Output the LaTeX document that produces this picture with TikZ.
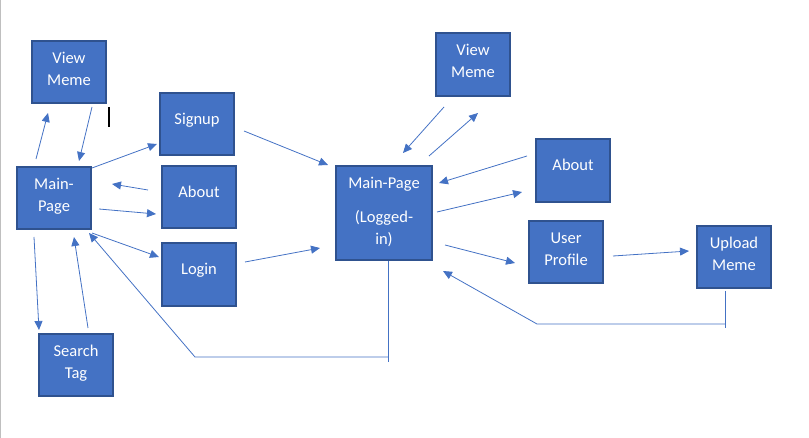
\documentclass[tikz,border=0pt]{standalone}
\usepackage{fontspec}
\setmainfont{Carlito}
\usetikzlibrary{arrows.meta}
\definecolor{boxfill}{HTML}{4472C4}
\definecolor{boxline}{HTML}{2F528F}
\definecolor{conn}{HTML}{4472C4}
\tikzset{
  box/.style={draw=boxline, fill=boxfill, line width=2pt, minimum width=74pt, minimum height=62pt, inner sep=0pt},
  lbl/.style={text=white, align=center, inner sep=0pt, font=\fontsize{16.5}{21.8}\selectfont},
  arr/.style={draw=conn, line width=0.8pt, -{Triangle[length=9pt,width=8pt]}},
  ln/.style={draw=conn, line width=0.8pt},
}
\begin{document}
\begin{tikzpicture}[x=1pt,y=-1pt]
\useasboundingbox (0,0) rectangle (809,438);
\draw[gray!50, line width=1pt] (0.5,0) -- (0.5,438);
% boxes
\node[box, label={[lbl,yshift=2pt]center:{\strut View\\\strut Meme}}] (vm1) at (69,72) {};
\node[box, label={[lbl,yshift=1.5pt]center:{\strut Main-\\\strut Page}}] (mp1) at (54,198) {};
\node[box, label={[lbl,yshift=4pt]center:{\strut Signup}}] (sg) at (197,124) {};
\node[box, label={[lbl,yshift=4pt]center:{\strut About}}] (ab1) at (199,197) {};
\node[box, minimum height=63pt, label={[lbl,yshift=4pt]center:{\strut Login}}] (lg) at (199,274.5) {};
\node[box, label={[lbl,yshift=2pt]center:{\strut Search\\\strut Tag}}] (st) at (76,365) {};
\node[box, minimum width=96pt, minimum height=94pt, label={[lbl,yshift=1.2pt]center:{\strut Main-Page\\[12.6pt]\strut (Logged-\\\strut in)}}] (mp2) at (384,213) {};
\node[box, minimum height=63pt, label={[lbl,yshift=2pt]center:{\strut View\\\strut Meme}}] (vm2) at (473,64.5) {};
\node[box, minimum height=63pt, label={[lbl,yshift=4pt]center:{\strut About}}] (ab2) at (573,170.5) {};
\node[box, label={[lbl,yshift=2pt]center:{\strut User\\\strut Profile}}] (up) at (566,252) {};
\node[box, label={[lbl,yshift=2pt]center:{\strut Upload\\\strut Meme}}] (um) at (734,257) {};
% text cursor
\draw[black, line width=1.2pt] (109,107) -- (109,127);
% connectors
\draw[arr] ([shift={(-18,-39)}]mp1.center) -- ([shift={(-21,41)}]vm1.center);
\draw[arr] ([shift={(23,35)}]vm1.center) -- ([shift={(25,-37)}]mp1.center);
\draw[arr] ([shift={(38,-30)}]mp1.center) -- ([shift={(-40,20)}]sg.center);
\draw[arr] ([shift={(-51,-7)}]ab1.center) -- ([shift={(58,-14)}]mp1.center);
\draw[arr] ([shift={(45,11)}]mp1.center) -- ([shift={(-43,17)}]ab1.center);
\draw[arr] ([shift={(38,35)}]mp1.center) -- ([shift={(-40,-17.5)}]lg.center);
\draw[arr] ([shift={(-20,39)}]mp1.center) -- ([shift={(-37,-35)}]st.center);
\draw[arr] ([shift={(12,-37)}]st.center) -- ([shift={(20,39)}]mp1.center);
\draw[arr] ([shift={(47,7)}]sg.center) -- ([shift={(-56,-48)}]mp2.center);
\draw[arr] ([shift={(46,-12.5)}]lg.center) -- ([shift={(-64,35)}]mp2.center);
\draw[arr] ([shift={(-29,42.5)}]vm2.center) -- ([shift={(19,-60)}]mp2.center);
\draw[arr] ([shift={(45,-57)}]mp2.center) -- ([shift={(5,48.5)}]vm2.center);
\draw[arr] ([shift={(-46,-14.5)}]ab2.center) -- ([shift={(55,-30)}]mp2.center);
\draw[arr] ([shift={(53,-1)}]mp2.center) -- ([shift={(-51,21.5)}]ab2.center);
\draw[arr] ([shift={(61,32)}]mp2.center) -- ([shift={(-51,11)}]up.center);
\draw[arr] ([shift={(47,4)}]up.center) -- ([shift={(-45,-6)}]um.center);
% loop from logged-in main page back to main page
\coordinate (l1) at (388,357);
\coordinate (l2) at (195,357);
\draw[ln] ([xshift=4pt]mp2.south) -- (388,362);
\draw[arr] (l1) -- (l2) -- ([shift={(35,35)}]mp1.center);
% loop from upload meme back to logged-in main page
\coordinate (u1) at (725,324);
\coordinate (u2) at (537,324);
\draw[ln] ([shift={(-9,34)}]um.center) -- (725,328);
\draw[arr] (u1) -- (u2) -- ([shift={(59,58)}]mp2.center);
\end{tikzpicture}
\end{document}
